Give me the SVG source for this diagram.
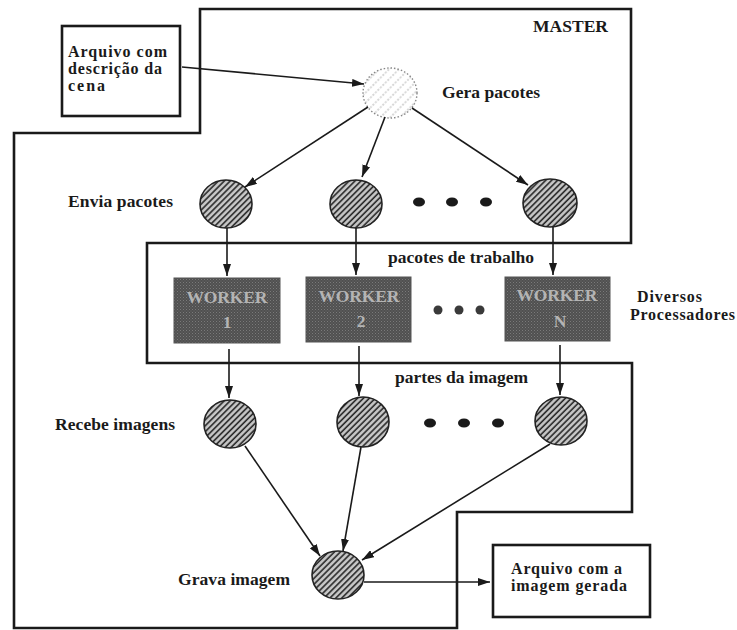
<svg xmlns="http://www.w3.org/2000/svg" width="737" height="630" viewBox="0 0 737 630">
<style>
.lbl{font-family:"Liberation Serif","Times New Roman",serif;font-weight:bold;font-size:17.5px;fill:#1a1a1a}
.ml{font-size:16px}
.wk{font-family:"Liberation Serif","Times New Roman",serif;font-weight:bold;font-size:17.5px;fill:#b4b4b4;text-anchor:middle}
.frame{fill:none;stroke:#1a1a1a;stroke-width:2.6}
.box{fill:#fff;stroke:#1a1a1a;stroke-width:2.6}
.node{fill:url(#hatch);stroke:#222;stroke-width:1.6}
.gera{fill:url(#lighthatch);stroke:#888;stroke-width:1.4;stroke-dasharray:1.5 2}
.worker{fill:url(#noise);stroke:#555;stroke-width:1}
.dot{fill:#1a1a1a}
.dotg{fill:#3a3a3a}
.conn{fill:none;stroke:#1a1a1a;stroke-width:1.6;marker-end:url(#arr)}
</style>
<defs>
<pattern id="hatch" patternUnits="userSpaceOnUse" width="4.2" height="4.2" patternTransform="rotate(-45)">
<rect width="4.2" height="4.2" fill="#c8c8c8"/>
<line x1="0" y1="1" x2="4.2" y2="1" stroke="#262626" stroke-width="1.6"/>
</pattern>
<pattern id="lighthatch" patternUnits="userSpaceOnUse" width="7" height="7" patternTransform="rotate(-45)">
<rect width="7" height="7" fill="#fff"/>
<line x1="0" y1="2" x2="7" y2="2" stroke="#b0b0b0" stroke-width="1.2" stroke-dasharray="2 1.5"/>
</pattern>
<pattern id="noise" patternUnits="userSpaceOnUse" width="3" height="3">
<rect width="3" height="3" fill="#505050"/>
<rect x="0" y="0" width="1" height="1" fill="#7a7a7a"/>
<rect x="1.5" y="1.5" width="1" height="1" fill="#6a6a6a"/>
</pattern>
<marker id="arr" markerUnits="userSpaceOnUse" markerWidth="13" markerHeight="8" refX="12" refY="4" orient="auto">
<path d="M0,0 L12,4 L0,8 Z" fill="#1a1a1a"/>
</marker>
</defs>
<rect width="737" height="630" fill="#fff"/>

<g id="master">
<polygon class="frame" points="200,9 631,9 631,243 147,243 147,363 632,363 632,512 457,512 457,628 14,628 14,133 200,133"/>
<text class="lbl" x="533" y="32" textLength="75">MASTER</text>
</g>

<g id="arquivo-entrada">
<rect class="box" x="62" y="26" width="118" height="90"/>
<text class="lbl ml" x="68" y="57" textLength="99">Arquivo com</text>
<text class="lbl ml" x="68" y="74" textLength="94">descrição da</text>
<text class="lbl ml" x="68" y="91" textLength="37">cena</text>
</g>

<g id="gera-pacotes">
<ellipse class="gera" cx="390" cy="93" rx="27" ry="25"/>
<text class="lbl" x="442" y="98" textLength="98">Gera pacotes</text>
</g>

<g id="envia-pacotes">
<text class="lbl" x="68" y="207" textLength="105">Envia pacotes</text>
<ellipse class="node" cx="226" cy="204" rx="26" ry="24"/>
<ellipse class="node" cx="356" cy="204" rx="26" ry="24"/>
<ellipse class="node" cx="550" cy="203" rx="27" ry="24"/>
<ellipse class="dot" cx="419" cy="202" rx="6" ry="4.5"/>
<ellipse class="dot" cx="452" cy="202" rx="6" ry="4.5"/>
<ellipse class="dot" cx="486" cy="202" rx="6" ry="4.5"/>
</g>

<g id="workers">
<text class="lbl" x="388" y="263" textLength="146">pacotes de trabalho</text>
<g id="worker-1">
<rect class="worker" x="174" y="278" width="106" height="65"/>
<text class="wk" x="227" y="303" textLength="81">WORKER</text>
<text class="wk" x="227" y="328">1</text>
</g>
<g id="worker-2">
<rect class="worker" x="306" y="277" width="105" height="65"/>
<text class="wk" x="359" y="302" textLength="81">WORKER</text>
<text class="wk" x="361" y="327">2</text>
</g>
<g id="worker-n">
<rect class="worker" x="505" y="277" width="105" height="64"/>
<text class="wk" x="557" y="301" textLength="81">WORKER</text>
<text class="wk" x="560" y="327">N</text>
</g>
<ellipse class="dotg" cx="438" cy="310" rx="4.5" ry="4.5"/>
<ellipse class="dotg" cx="459" cy="310" rx="4.5" ry="4.5"/>
<ellipse class="dotg" cx="480" cy="310" rx="4.5" ry="4.5"/>
<text class="lbl ml" x="637" y="302" textLength="65">Diversos</text>
<text class="lbl ml" x="630" y="320" textLength="105">Processadores</text>
<text class="lbl" x="395" y="383" textLength="133">partes da imagem</text>
</g>

<g id="recebe-imagens">
<text class="lbl" x="55" y="430" textLength="120">Recebe imagens</text>
<ellipse class="node" cx="230" cy="424" rx="26" ry="24"/>
<ellipse class="node" cx="363" cy="422" rx="26" ry="25"/>
<ellipse class="node" cx="561" cy="421" rx="26" ry="24"/>
<ellipse class="dot" cx="430" cy="423" rx="6" ry="4.5"/>
<ellipse class="dot" cx="464" cy="423" rx="6" ry="4.5"/>
<ellipse class="dot" cx="498" cy="423" rx="6" ry="4.5"/>
</g>

<g id="grava-imagem">
<text class="lbl" x="178" y="585" textLength="112">Grava imagem</text>
<ellipse class="node" cx="338" cy="575" rx="26" ry="24"/>
</g>

<g id="arquivo-saida">
<rect class="box" x="493" y="545" width="157" height="72"/>
<text class="lbl ml" x="511" y="574" textLength="111">Arquivo com a</text>
<text class="lbl ml" x="511" y="591" textLength="116">imagem gerada</text>
</g>

<g id="connectors">
<line class="conn" x1="182" y1="67" x2="364" y2="84"/>
<line class="conn" x1="368" y1="107" x2="245" y2="187"/>
<line class="conn" x1="385" y1="117" x2="362" y2="177"/>
<line class="conn" x1="412" y1="108" x2="528" y2="185"/>
<line class="conn" x1="227" y1="228" x2="227" y2="276"/>
<line class="conn" x1="356" y1="228" x2="356" y2="275"/>
<line class="conn" x1="553" y1="227" x2="553" y2="275"/>
<line class="conn" x1="229" y1="349" x2="229" y2="398"/>
<line class="conn" x1="359" y1="346" x2="359" y2="396"/>
<line class="conn" x1="560" y1="345" x2="560" y2="395"/>
<line class="conn" x1="245" y1="446" x2="320" y2="556"/>
<line class="conn" x1="361" y1="447" x2="343" y2="551"/>
<line class="conn" x1="550" y1="444" x2="362" y2="560"/>
<line class="conn" x1="364" y1="582" x2="490" y2="582"/>
</g>
</svg>
